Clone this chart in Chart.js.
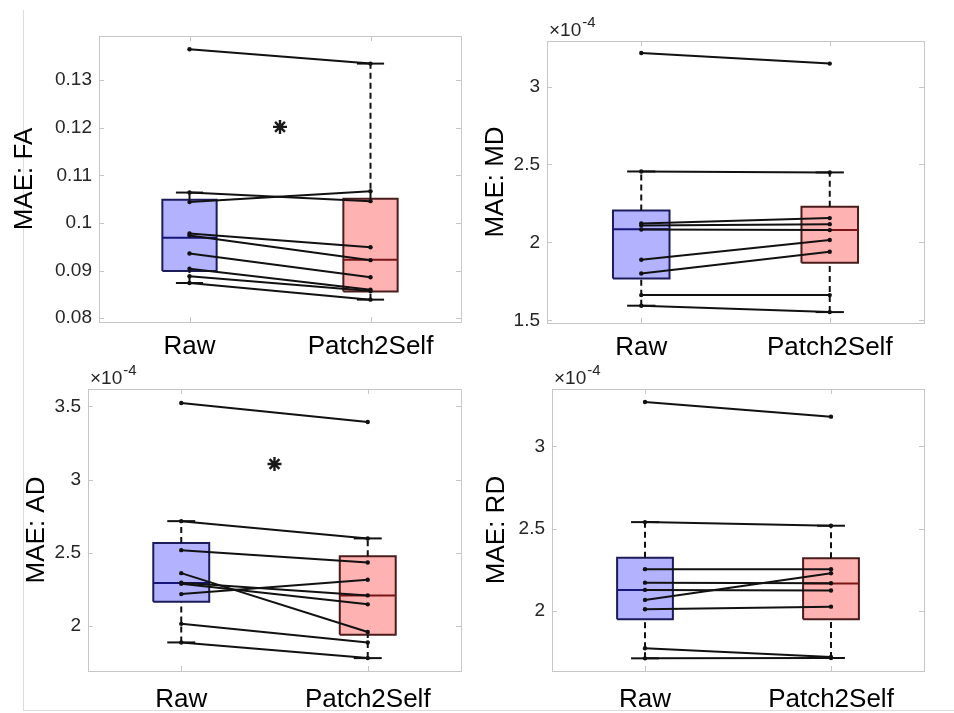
<!DOCTYPE html>
<html>
<head>
<meta charset="utf-8">
<script src="https://cdn.jsdelivr.net/npm/chart.js@4.4.1/dist/chart.umd.min.js"></script>
<style>
  body { margin: 0; background: #fff; }
  #page { position: relative; width: 954px; height: 713px; overflow: hidden; background: #fff; }
  .frame { position: absolute; left: 23px; top: 10px; width: 940px; height: 700px;
           border-left: 1px solid #dddddd; border-bottom: 1px solid #dddddd; }
  canvas { position: absolute; }
</style>
</head>
<body>
<div id="page">
  <div class="frame"></div>
  <canvas id="faChart"></canvas>
  <canvas id="mdChart"></canvas>
  <canvas id="adChart"></canvas>
  <canvas id="rdChart"></canvas>
</div>
<script>
// Categories on the x axis
const groups = ['Raw', 'Patch2Self'];

// MAE: FA (per subject, Raw vs Patch2Self)
const faRaw  = [0.1365, 0.1064, 0.1044, 0.0978, 0.0974, 0.0936, 0.0904, 0.0888, 0.0874];
const faP2S  = [0.1335, 0.1046, 0.1067, 0.0949, 0.0922, 0.0886, 0.0860, 0.0857, 0.0839];
// box stats: [lower whisker, q1, median, q3, upper whisker]
const faBoxRaw = [0.0874, 0.0899, 0.0969, 0.1049, 0.1064];
const faBoxP2S = [0.0839, 0.0856, 0.0923, 0.1051, 0.1335];
const faTicks = [0.08, 0.09, 0.10, 0.11, 0.12, 0.13];
const faTickLabels = ['0.08', '0.09', '0.1', '0.11', '0.12', '0.13'];
const faStar = 0.1202;

// MAE: MD (values x10^-4)
const mdRaw  = [3.215, 2.455, 2.122, 2.109, 2.083, 1.889, 1.801, 1.662, 1.594];
const mdP2S  = [3.147, 2.449, 2.156, 2.117, 2.079, 2.015, 1.940, 1.662, 1.553];
const mdBoxRaw = [1.594, 1.769, 2.085, 2.205, 2.455];
const mdBoxP2S = [1.553, 1.869, 2.080, 2.228, 2.449];
const mdTicks = [1.5, 2, 2.5, 3];
const mdTickLabels = ['1.5', '2', '2.5', '3'];

// MAE: AD (values x10^-4)
const adRaw  = [3.522, 2.716, 2.518, 2.361, 2.295, 2.288, 2.218, 2.015, 1.888];
const adP2S  = [3.393, 2.598, 2.434, 1.959, 2.209, 2.148, 2.316, 1.888, 1.781];
const adBoxRaw = [1.888, 2.166, 2.293, 2.566, 2.716];
const adBoxP2S = [1.781, 1.941, 2.209, 2.477, 2.598];
const adTicks = [2, 2.5, 3, 3.5];
const adTickLabels = ['2', '2.5', '3', '3.5'];
const adStar = 3.106;

// MAE: RD (values x10^-4)
const rdRaw  = [3.270, 2.540, 2.254, 2.172, 2.128, 2.067, 2.010, 1.773, 1.712];
const rdP2S  = [3.181, 2.518, 2.254, 2.168, 2.124, 2.229, 2.026, 1.720, 1.714];
const rdBoxRaw = [1.712, 1.950, 2.127, 2.324, 2.540];
const rdBoxP2S = [1.714, 1.950, 2.167, 2.321, 2.518];
const rdTicks = [2, 2.5, 3];
const rdTickLabels = ['2', '2.5', '3'];

const FONT = "'Liberation Sans', Arial, Helvetica, sans-serif";
Chart.defaults.font.family = FONT;
Chart.defaults.animation = false;

const BOX_W = 0.15;   // half box width (x units)
const CAP_W = 0.075;  // half cap width
const boxFill = ['rgba(178,178,255,1)', 'rgba(255,178,178,1)'];
const boxEdge = ['#1c1c5a', '#4a1c1c'];
const medColor = ['#15157a', '#7a1515'];

// draws the MATLAB-like axes box with inward ticks, plus the x10^-4 exponent
const axesBox = {
  id: 'axesBox',
  beforeDatasetsDraw(chart) {
    const { ctx, chartArea: a, scales } = chart;
    ctx.save();
    ctx.strokeStyle = '#c6c6c6';
    ctx.lineWidth = 1;
    ctx.strokeRect(Math.round(a.left) + 0.5, Math.round(a.top) + 0.5,
                   Math.round(a.right - a.left), Math.round(a.bottom - a.top));
    ctx.beginPath();
    scales.y.ticks.forEach(t => {
      const y = Math.round(scales.y.getPixelForValue(t.value)) + 0.5;
      ctx.moveTo(a.left, y); ctx.lineTo(a.left + 5, y);
      ctx.moveTo(a.right, y); ctx.lineTo(a.right - 5, y);
    });
    scales.x.ticks.forEach(t => {
      const x = Math.round(scales.x.getPixelForValue(t.value)) + 0.5;
      ctx.moveTo(x, a.bottom); ctx.lineTo(x, a.bottom - 5);
      ctx.moveTo(x, a.top); ctx.lineTo(x, a.top + 5);
    });
    ctx.stroke();
    ctx.restore();
  },
  afterDraw(chart, args, opts) {
    if (!opts.exponent) return;
    const { ctx, chartArea: a } = chart;
    ctx.save();
    ctx.fillStyle = '#262626';
    ctx.textBaseline = 'alphabetic';
    ctx.font = '19px ' + FONT;
    const x0 = a.left + 2, y0 = a.top - 5;
    ctx.fillText('\u00d710', x0, y0);
    const w = ctx.measureText('\u00d710').width;
    ctx.font = '15px ' + FONT;
    ctx.fillText(opts.exponent, x0 + w + 1, y0 - 9);
    ctx.restore();
  }
};

function makeDatasets(raw, p2s, boxRaw, boxP2S, star) {
  const ds = [];
  [boxRaw, boxP2S].forEach((b, i) => {
    const x = i + 1;
    const [lo, q1, med, q3, hi] = b;
    ds.push({
      data: [{x: x - BOX_W, y: q1}, {x: x + BOX_W, y: q1}, {x: x + BOX_W, y: q3},
             {x: x - BOX_W, y: q3}, {x: x - BOX_W, y: q1}],
      showLine: true, fill: 'shape', backgroundColor: boxFill[i], borderColor: boxEdge[i],
      borderWidth: 2, pointRadius: 0, order: 4
    });
    [[q3, hi], [lo, q1]].forEach(seg => ds.push({
      data: [{x: x, y: seg[0]}, {x: x, y: seg[1]}],
      showLine: true, borderColor: '#111', borderWidth: 2, borderDash: [6, 4],
      pointRadius: 0, order: 3
    }));
    [hi, lo].forEach(v => ds.push({
      data: [{x: x - CAP_W, y: v}, {x: x + CAP_W, y: v}],
      showLine: true, borderColor: '#111', borderWidth: 2, pointRadius: 0, order: 3
    }));
    ds.push({
      data: [{x: x - BOX_W, y: med}, {x: x + BOX_W, y: med}],
      showLine: true, borderColor: medColor[i], borderWidth: 2, pointRadius: 0, order: 2
    });
  });
  raw.forEach((v, k) => ds.push({
    data: [{x: 1, y: v}, {x: 2, y: p2s[k]}],
    showLine: true, borderColor: '#111', borderWidth: 2,
    pointRadius: 2.2, pointBackgroundColor: '#111', pointBorderWidth: 0, order: 1
  }));
  if (star !== null) ds.push({
    data: [{x: 1.5, y: star}], pointStyle: 'star', pointRadius: 7,
    borderColor: '#1a1a1a', borderWidth: 2.4, showLine: false, order: 0
  });
  return ds;
}

// layout of each panel (pixels)
const panels = [
  { id: 'faChart', left: 0,   top: 0,   w: 477, h: 362, pad: {top: 36, right: 16, left: 0, bottom: 0},
    yW: 99, xH: 40, xPad: 9, titlePad: 9, yMin: 0.0792, yMax: 0.1393, title: 'MAE: FA',
    raw: faRaw, p2s: faP2S, boxRaw: faBoxRaw, boxP2S: faBoxP2S, ticks: faTicks, labels: faTickLabels,
    star: faStar, exponent: null },
  { id: 'mdChart', left: 477, top: 0,   w: 477, h: 362, pad: {top: 41, right: 30, left: 0, bottom: 0},
    yW: 70, xH: 39, xPad: 9, titlePad: 3, yMin: 1.483, yMax: 3.292, title: 'MAE: MD',
    raw: mdRaw, p2s: mdP2S, boxRaw: mdBoxRaw, boxP2S: mdBoxP2S, ticks: mdTicks, labels: mdTickLabels,
    star: null, exponent: '-4' },
  { id: 'adChart', left: 0,   top: 356, w: 477, h: 357, pad: {top: 33, right: 16, left: 0, bottom: 0},
    yW: 88, xH: 42, xPad: 13, titlePad: 21, yMin: 1.693, yMax: 3.618, title: 'MAE: AD',
    raw: adRaw, p2s: adP2S, boxRaw: adBoxRaw, boxP2S: adBoxP2S, ticks: adTicks, labels: adTickLabels,
    star: adStar, exponent: '-4' },
  { id: 'rdChart', left: 477, top: 356, w: 477, h: 357, pad: {top: 33, right: 30, left: 0, bottom: 0},
    yW: 75, xH: 42, xPad: 13, titlePad: 4, yMin: 1.635, yMax: 3.349, title: 'MAE: RD',
    raw: rdRaw, p2s: rdP2S, boxRaw: rdBoxRaw, boxP2S: rdBoxP2S, ticks: rdTicks, labels: rdTickLabels,
    star: null, exponent: '-4' }
];

panels.forEach(p => {
  const canvas = document.getElementById(p.id);
  canvas.width = p.w; canvas.height = p.h;
  canvas.style.left = p.left + 'px'; canvas.style.top = p.top + 'px';
  canvas.style.width = p.w + 'px'; canvas.style.height = p.h + 'px';

  new Chart(canvas.getContext('2d'), {
    type: 'scatter',
    data: { datasets: makeDatasets(p.raw, p.p2s, p.boxRaw, p.boxP2S, p.star) },
    plugins: [axesBox],
    options: {
      responsive: false,
      devicePixelRatio: 1,
      layout: { padding: p.pad },
      plugins: {
        legend: { display: false },
        tooltip: { enabled: false },
        axesBox: { exponent: p.exponent }
      },
      scales: {
        x: {
          type: 'linear', min: 0.5, max: 2.5,
          afterBuildTicks: s => { s.ticks = [{value: 1}, {value: 2}]; },
          afterFit: s => { s.height = p.xH; },
          grid: { display: false, drawTicks: false },
          border: { display: false },
          ticks: { callback: v => groups[v - 1], font: { size: 26 }, color: '#000',
                   padding: p.xPad, autoSkip: false, maxRotation: 0 }
        },
        y: {
          type: 'linear', min: p.yMin, max: p.yMax,
          afterBuildTicks: s => { s.ticks = p.ticks.map(v => ({value: v})); },
          afterFit: s => { s.width = p.yW; },
          grid: { display: false, drawTicks: false },
          border: { display: false },
          ticks: { callback: (v, i) => p.labels[i], font: { size: 19 }, color: '#262626', padding: 7 },
          title: { display: true, text: p.title, font: { size: 26 }, color: '#000',
                   padding: { top: p.titlePad, bottom: 0 } }
        }
      }
    }
  });
});
</script>
</body>
</html>
